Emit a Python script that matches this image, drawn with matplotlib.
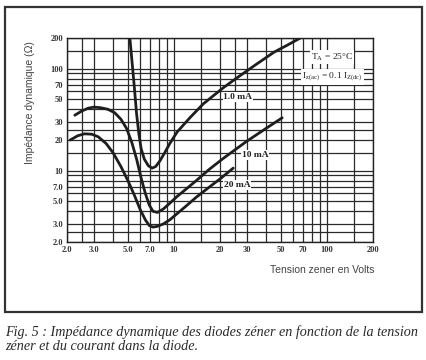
import matplotlib
matplotlib.use("Agg")
import matplotlib.pyplot as plt
from matplotlib.patches import Rectangle

# ---- data ----
v_1ma = [5.15, 5.3, 5.5, 5.7, 5.9, 6.1, 6.4, 6.8, 7.2, 7.6, 8.1, 8.7, 9.4,
         10.5, 12.7, 15.5, 18, 21, 26, 35, 45, 55, 67]
z_1ma = [200, 125, 68, 36, 23, 16.5, 13, 11.2, 10.6, 11, 12.5, 15, 18.5,
         24, 33, 45, 54, 65, 82, 112, 145, 170, 200]

v_10ma = [2.25, 2.5, 2.75, 3.0, 3.3, 3.7, 4.1, 4.5, 4.9, 5.3, 5.7, 6.1, 6.5,
          6.9, 7.3, 7.8, 8.5, 9.4, 10.5, 12, 14, 17, 21, 30, 40, 51]
z_10ma = [35, 38.5, 41, 42, 41.5, 40, 37, 32, 26, 19, 13, 8.5, 6.0,
          4.6, 4.0, 3.9, 4.2, 4.8, 5.6, 6.6, 8.0, 10.3, 13.2, 19.5, 26, 33]

v_20ma = [2.1, 2.35, 2.6, 2.9, 3.2, 3.6, 4.0, 4.5, 5.0, 5.5, 6.0, 6.5, 6.9,
          7.3, 7.8, 8.5, 9.4, 10.5, 12, 14, 17, 20, 24.4]
z_20ma = [20, 22, 23, 22.8, 21.5, 18.5, 15, 11, 8, 5.8, 4.2, 3.3, 2.9,
          2.8, 2.85, 3.0, 3.3, 3.8, 4.5, 5.5, 6.9, 8.3, 10.6]

x_ticks = [2, 3, 5, 7, 10, 20, 30, 50, 70, 100, 200]
x_tick_labels = ["2.0", "3.0", "5.0", "7.0", "10", "20", "30", "50", "70", "100", "200"]
y_ticks = [2, 3, 5, 7, 10, 20, 30, 50, 70, 100, 200]
y_tick_labels = ["2.0", "3.0", "5.0", "7.0", "10", "20", "30", "50", "70", "100", "200"]

x_grid = [2, 2.5, 3, 4, 5, 6, 7, 8, 9, 10, 15, 20, 25, 30, 40, 50, 60, 70, 80, 90, 100, 150, 200]
y_grid = [2, 2.5, 3, 4, 5, 6, 7, 8, 9, 10, 15, 20, 25, 30, 40, 50, 60, 70, 80, 90, 100, 150, 200]

curve_labels = ["1.0 mA", "10 mA", "20 mA"]
label_pos = [(26.2, 53), (33.8, 14.3), (25.8, 7.2)]

# ---- figure ----
W, H = 427, 360
fig = plt.figure(figsize=(W / 100, H / 100), dpi=100)
fig.patch.set_facecolor("white")

# outer frame
fig.add_artist(Rectangle((5 / W, 1 - 312 / H), 417 / W, 305 / H,
                         transform=fig.transFigure, fill=False,
                         ec="#333333", lw=1.6))

ax = fig.add_axes([67 / W, 1 - 242 / H, 306 / W, 204 / H])
ax.set_xscale("log")
ax.set_yscale("log")
ax.set_xlim(2, 200)
ax.set_ylim(2, 200)

grid_kw = dict(color="#2a2a2a", lw=0.9, zorder=1)
for gx in x_grid:
    ax.axvline(gx, **grid_kw)
for gy in y_grid:
    ax.axhline(gy, **grid_kw)

curve_kw = dict(color="#1e1e1e", lw=2.0, solid_capstyle="round",
                solid_joinstyle="round", zorder=3)
ax.plot(v_1ma, z_1ma, **curve_kw)
ax.plot(v_10ma, z_10ma, **curve_kw)
ax.plot(v_20ma, z_20ma, **curve_kw)

serif = ["Liberation Serif", "DejaVu Serif"]
for lab, (lx, ly) in zip(curve_labels, label_pos):
    ax.text(lx, ly, lab, ha="center", va="center", fontsize=6.8,
            family=serif, weight="bold", color="#222222", zorder=4,
            bbox=dict(fc="white", ec="none", pad=0.6))

ax.text(108, 130, r"T$_\mathregular{A}$ = 25°C", ha="center", va="center",
        fontsize=6.8, family=serif, color="#222222", zorder=4,
        bbox=dict(fc="white", ec="none", pad=0.8))
ax.text(108, 83, r"I$_\mathregular{z(ac)}$ = 0.1 I$_\mathregular{Z(dc)}$",
        ha="center", va="center", fontsize=6.8, family=serif,
        color="#222222", zorder=4, bbox=dict(fc="white", ec="none", pad=0.8))

ax.set_xticks(x_ticks)
ax.set_xticklabels(x_tick_labels)
ax.set_yticks(y_ticks)
ax.set_yticklabels(y_tick_labels)
ax.minorticks_off()
ax.tick_params(length=0, pad=3, labelsize=6, colors="#333333")
for t in ax.get_xticklabels() + ax.get_yticklabels():
    t.set_family(serif)
    t.set_weight("bold")
for s in ax.spines.values():
    s.set_color("#222222")
    s.set_linewidth(1.0)

fig.text(30 / W, 1 - 103 / H, "Impédance dynamique (Ω)", rotation=90,
         ha="center", va="center", fontsize=7.5, color="#444444",
         family=["Liberation Sans", "DejaVu Sans"])
fig.text(375 / W, 1 - 270 / H, "Tension zener en Volts", ha="right",
         va="center", fontsize=7.5, color="#444444",
         family=["Liberation Sans", "DejaVu Sans"])

cap_kw = dict(fontsize=10.2, style="italic", color="#2a2a2a", family=serif,
              va="center")
fig.text(5 / W, 1 - 332 / H,
         "Fig. 5 : Impédance dynamique des diodes zéner en fonction de la tension",
         ha="left", **cap_kw)
fig.text(5 / W, 1 - 347 / H, "zéner et du courant dans la diode.",
         ha="left", **cap_kw)

fig.savefig("out.png", dpi=100, facecolor="white")
